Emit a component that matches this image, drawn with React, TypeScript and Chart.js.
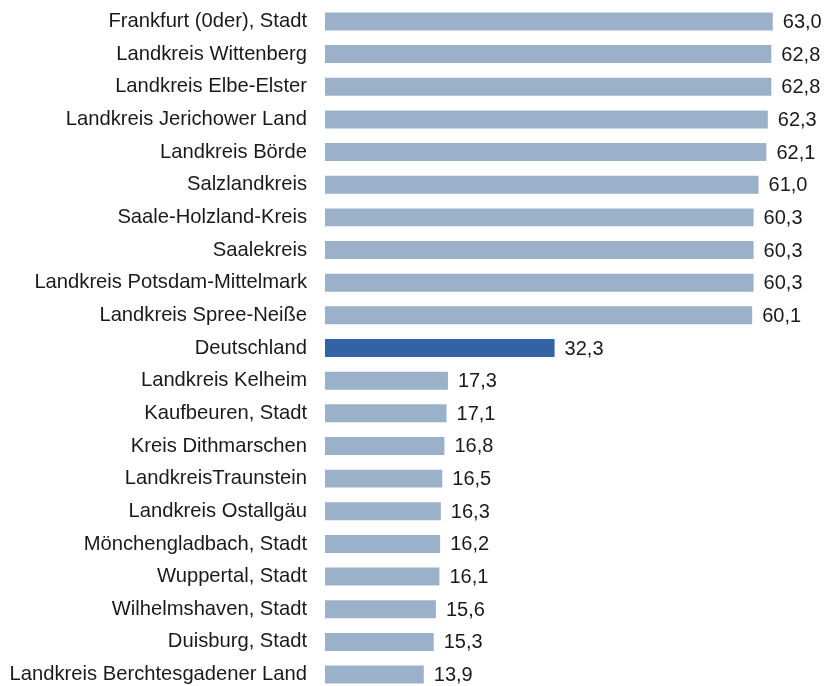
import React, { useEffect, useRef } from "react";
import { Chart, registerables } from "chart.js";

Chart.register(...registerables);

const categories = [
  "Frankfurt (0der), Stadt",
  "Landkreis Wittenberg",
  "Landkreis Elbe-Elster",
  "Landkreis Jerichower Land",
  "Landkreis Börde",
  "Salzlandkreis",
  "Saale-Holzland-Kreis",
  "Saalekreis",
  "Landkreis Potsdam-Mittelmark",
  "Landkreis Spree-Neiße",
  "Deutschland",
  "Landkreis Kelheim",
  "Kaufbeuren, Stadt",
  "Kreis Dithmarschen",
  "LandkreisTraunstein",
  "Landkreis Ostallgäu",
  "Mönchengladbach, Stadt",
  "Wuppertal, Stadt",
  "Wilhelmshaven, Stadt",
  "Duisburg, Stadt",
  "Landkreis Berchtesgadener Land",
];

const values = [
  63.0, 62.8, 62.8, 62.3, 62.1, 61.0, 60.3, 60.3, 60.3, 60.1, 32.3, 17.3, 17.1,
  16.8, 16.5, 16.3, 16.2, 16.1, 15.6, 15.3, 13.9,
];

const highlight = "Deutschland";
const LIGHT = "#9bb1c9";
const DARK = "#3463a5";
const FONT = "'Liberation Sans', Arial, sans-serif";
const FONT_SIZE = 20.2;

const valueLabels = {
  id: "valueLabels",
  afterDatasetsDraw(chart: any) {
    const ctx = chart.ctx;
    const meta = chart.getDatasetMeta(0);
    ctx.save();
    ctx.font = `20px ${FONT}`;
    ctx.fillStyle = "#1a1a1a";
    ctx.textAlign = "left";
    ctx.textBaseline = "middle";
    meta.data.forEach((bar: any, i: number) => {
      const txt = values[i].toFixed(1).replace(".", ",");
      ctx.fillText(txt, bar.x + 10, bar.y + 1);
    });
    ctx.restore();
  },
};

export default function App() {
  const ref = useRef<HTMLCanvasElement>(null);
  useEffect(() => {
    const chart = new Chart(ref.current!, {
      type: "bar",
      data: {
        labels: categories,
        datasets: [
          {
            data: values,
            backgroundColor: categories.map((c) => (c === highlight ? DARK : LIGHT)),
            barPercentage: 0.55,
            categoryPercentage: 1,
            borderWidth: 0,
          },
        ],
      },
      options: {
        indexAxis: "y",
        animation: false,
        responsive: false,
        maintainAspectRatio: false,
        layout: { padding: { top: 5, bottom: 5, left: 0, right: 38 } },
        plugins: { legend: { display: false }, tooltip: { enabled: false } },
        scales: {
          x: {
            min: 0,
            max: 65,
            display: false,
            grid: { display: false },
          },
          y: {
            grid: { display: false, drawTicks: false },
            border: { display: false },
            afterFit: (scale: any) => {
              scale.width = 325;
            },
            ticks: {
              padding: 18,
              color: "#1a1a1a",
              font: { family: FONT, size: FONT_SIZE },
              autoSkip: false,
            },
          },
        },
      },
      plugins: [valueLabels],
    });
    return () => chart.destroy();
  }, []);
  return (
    <div
      style={{
        position: "fixed",
        left: 0,
        top: 0,
        width: 825,
        height: 686,
        overflow: "hidden",
        background: "#fff",
      }}
    >
      <canvas
        ref={ref}
        width={825}
        height={746}
        style={{ display: "block", position: "absolute", left: 0, top: -25 }}
      />
    </div>
  );
}
